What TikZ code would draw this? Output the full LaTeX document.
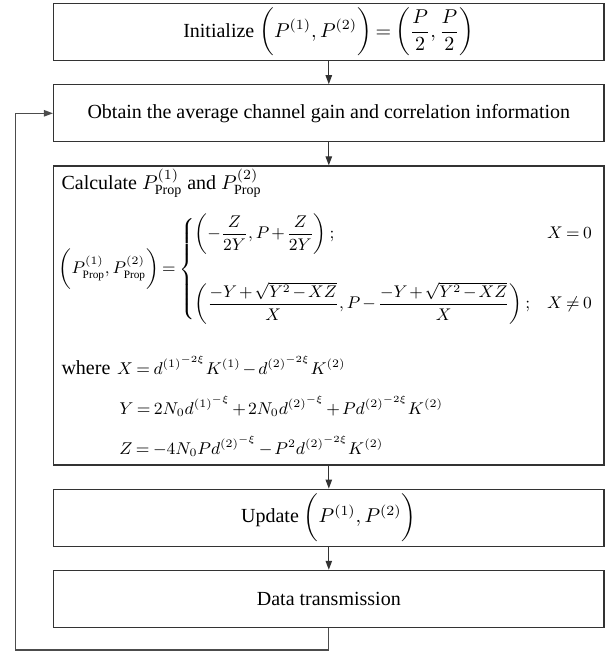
\documentclass[tikz,border=0pt]{standalone}
\usepackage{amsmath}
\usepackage{fontspec}
\setmainfont{Liberation Serif}
\usetikzlibrary{arrows.meta,positioning}

\newcommand{\tightmath}{\medmuskip=2mu\thickmuskip=3.5mu}

\tikzset{
	stagebox/.style={draw=black!80, line width=0.6pt, minimum width=275.25pt,
		minimum height=28.5pt, inner sep=0pt, font=\fontsize{10}{12}\selectfont\tightmath},
	formline/.style={anchor=base west, inner sep=0pt, font=\fontsize{10}{12}\selectfont\tightmath},
	mathline/.style={formline, font=\fontsize{9}{11}\selectfont\tightmath, scale=0.95, transform shape},
	flow/.style={draw=black!80, line width=0.6pt, -{Triangle[length=4.5pt,width=3.2pt]}},
	loopline/.style={draw=black!70, line width=0.6pt, -{Triangle[length=4.5pt,width=3.2pt]}}
}

\begin{document}
\begin{tikzpicture}

		\def\gap{11.5pt} % space between two boxes
		\def\loopx{18.6pt} % left offset of the feedback line
		\def\loopy{11pt} % drop of the feedback line

		\useasboundingbox (0,0) rectangle (306.5pt,-326pt);

		% Boxes of the flow chart
		\node[stagebox, anchor=north] (init) at (164.4pt,-1.5pt)
			{Initialize $\biggl(P^{(1)},P^{(2)}\biggr)=\left(\dfrac{P}{2},\dfrac{P}{2}\right)$};
		\node[stagebox, below=\gap of init] (obtain)
			{Obtain the average channel gain and correlation information};
		\node[stagebox, below=\gap of obtain, minimum height=149.5pt] (calc) {};
		\node[stagebox, below=\gap of calc] (update)
			{Update $\biggl(P^{(1)},P^{(2)}\biggr)$};
		\node[stagebox, below=\gap of update] (data) {Data transmission};

		% Content of the calculation box
		\node[formline] (calcline) at ([xshift=4.1pt,yshift=-12pt]calc.north west)
			{Calculate $P^{(1)}_{\mathrm{Prop}}$ and $P^{(2)}_{\mathrm{Prop}}$};
		\node[mathline, anchor=west, scale=0.94/0.95] (eqline)
			at ([xshift=2.75pt,yshift=-52pt]calc.north west)
			{$\biggl(P^{(1)}_{\mathrm{Prop}},P^{(2)}_{\mathrm{Prop}}\biggr)=\left\{
				\begin{array}{@{}l@{\quad}l@{}}
					\left(-\dfrac{Z}{2Y},P+\dfrac{Z}{2Y}\right); & X=0\\[20pt]
					\left(\dfrac{-Y+\sqrt{Y^2-XZ}}{X},P-\dfrac{-Y+\sqrt{Y^2-XZ}}{X}\right); & X\neq 0
				\end{array}\right.$};
		\node[formline] (whereline) at ([xshift=4.1pt,yshift=-104.5pt]calc.north west)
			{where\vphantom{X}};
		\node[mathline] (wheremath) at ([xshift=3pt]whereline.base east)
			{$X=d^{{(1)}^{-2\xi}}K^{(1)}-d^{{(2)}^{-2\xi}}K^{(2)}$};
		\node[mathline] (yline) at ([xshift=33pt,yshift=-124.5pt]calc.north west)
			{$Y=2N_0d^{{(1)}^{-\xi}}+2N_0d^{{(2)}^{-\xi}}+Pd^{{(2)}^{-2\xi}}K^{(2)}$};
		\node[mathline] (zline) at ([xshift=33pt,yshift=-144.5pt]calc.north west)
			{$Z=-4N_0Pd^{{(2)}^{-\xi}}-P^2d^{{(2)}^{-2\xi}}K^{(2)}$};

		% Arrows between the boxes
		\foreach \a/\b in {init/obtain,obtain/calc,calc/update,update/data}
			\draw[flow] (\a) -- (\b);

		% Feedback line
		\coordinate (loopcorner) at ([xshift=-\loopx,yshift=-\loopy]data.south west);
		\draw[loopline] (data.south) |- (loopcorner) |- (obtain.west);

	\end{tikzpicture}
\end{document}
